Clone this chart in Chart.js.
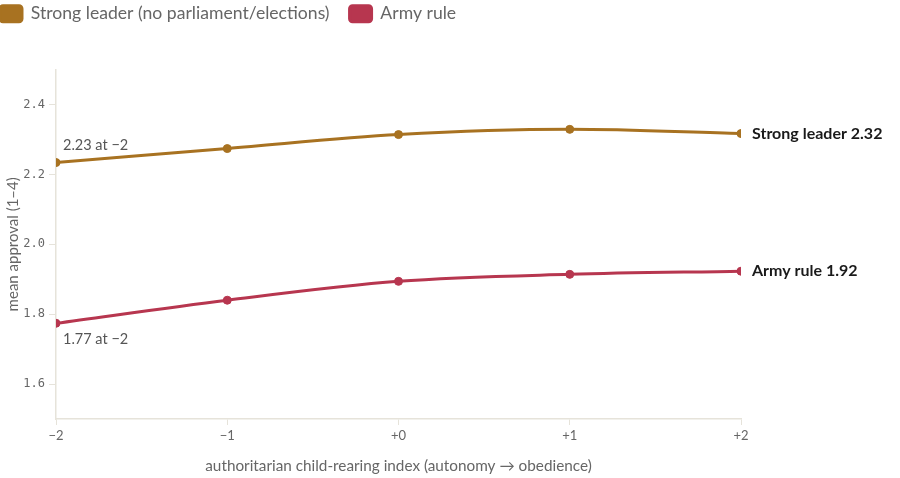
<!DOCTYPE html>
<html>
<head>
<meta charset="utf-8">
<script src="https://cdn.jsdelivr.net/npm/chart.js@4"></script>
<style>
  html, body { margin: 0; padding: 0; background: #fff; overflow: hidden; }
  /* legend in Chart.js starts one padding in, so pull the canvas up/left */
  #wrap { position: relative; width: 920px; height: 493px; margin-left: -20px; margin-top: -15px; }
</style>
</head>
<body>
<div id="wrap"><canvas id="approvalChart"></canvas></div>
<script>
// ---- data ----
const indexLabels = ['\u22122', '\u22121', '+0', '+1', '+2'];
const indexValues = [-2, -1, 0, 1, 2];
const strongLeader = [2.234, 2.274, 2.314, 2.329, 2.317];
const armyRule = [1.774, 1.840, 1.894, 1.914, 1.923];
const yTicks = [1.6, 1.8, 2.0, 2.2, 2.4];

const GOLD = '#a87221';
const RED = '#b7364f';
const AXIS = '#e6e3da';
const TEXT = '#666666';

// extra space between legend and plot
const legendGap = {
    id: 'legendGap',
    afterInit(chart) {
        const fit = chart.legend.fit;
        chart.legend.fit = function () {
            fit.bind(chart.legend)();
            this.height += 37;
        };
    }
};

// start / end labels on the lines
const lineLabels = {
    id: 'lineLabels',
    afterDatasetsDraw(chart) {
        const ctx = chart.ctx;
        const x = chart.scales.x, y = chart.scales.y;
        const last = indexValues.length - 1;
        ctx.save();
        ctx.textBaseline = 'middle';
        ctx.textAlign = 'left';

        // end labels
        ctx.fillStyle = '#1a1a1a';
        ctx.font = 'bold 16px Lato, "Open Sans", sans-serif';
        ctx.fillText('Strong leader ' + strongLeader[last].toFixed(2),
            x.getPixelForValue(indexValues[last]) + 11, y.getPixelForValue(strongLeader[last]));
        ctx.fillText('Army rule ' + armyRule[last].toFixed(2),
            x.getPixelForValue(indexValues[last]) + 11, y.getPixelForValue(armyRule[last]));

        // start labels
        ctx.fillStyle = '#555';
        ctx.font = '14.5px Lato, "Open Sans", sans-serif';
        ctx.fillText(strongLeader[0].toFixed(2) + ' at \u22122',
            x.getPixelForValue(indexValues[0]) + 7, y.getPixelForValue(strongLeader[0]) - 17);
        ctx.fillText(armyRule[0].toFixed(2) + ' at \u22122',
            x.getPixelForValue(indexValues[0]) + 7, y.getPixelForValue(armyRule[0]) + 16);
        ctx.restore();
    }
};

const lineStyle = (color) => ({
    borderColor: color,
    backgroundColor: color,
    borderWidth: 3,
    pointRadius: 4,
    pointBorderWidth: 1,
    pointHoverRadius: 4,
    cubicInterpolationMode: 'monotone'
});

new Chart(document.getElementById('approvalChart'), {
    type: 'line',
    data: {
        datasets: [
            Object.assign({ label: 'Strong leader (no parliament/elections)',
                data: indexValues.map((v, i) => ({ x: v, y: strongLeader[i] })) }, lineStyle(GOLD)),
            Object.assign({ label: 'Army rule',
                data: indexValues.map((v, i) => ({ x: v, y: armyRule[i] })) }, lineStyle(RED))
        ]
    },
    options: {
        responsive: true,
        maintainAspectRatio: false,
        animation: false,
        layout: { padding: { left: 0, right: 159, top: 0, bottom: 0 } },
        plugins: {
            tooltip: { enabled: false },
            legend: {
                position: 'top',
                align: 'start',
                labels: {
                    boxWidth: 22, boxHeight: 16, padding: 20,
                    useBorderRadius: true, borderRadius: 3,
                    color: TEXT,
                    font: { family: 'Lato, "Open Sans", sans-serif', size: 17.6 }
                }
            }
        },
        scales: {
            x: {
                type: 'linear',
                min: -2, max: 2,
                afterBuildTicks: (s) => { s.ticks = indexValues.map(v => ({ value: v })); },
                afterFit: (s) => { s.height = 59; },
                ticks: {
                    callback: (v) => indexLabels[indexValues.indexOf(v)],
                    color: TEXT, padding: 3,
                    font: { family: 'Lato, sans-serif', size: 13 }
                },
                grid: { drawOnChartArea: false, color: AXIS, tickLength: 6, tickColor: AXIS },
                border: { color: AXIS, width: 1.5 },
                title: {
                    display: true,
                    text: 'authoritarian child-rearing index (autonomy \u2192 obedience)',
                    color: TEXT,
                    padding: { top: 0, bottom: 3 },
                    font: { family: 'Lato, "Open Sans", sans-serif', size: 15.3 }
                }
            },
            y: {
                min: 1.5, max: 2.5,
                afterBuildTicks: (s) => { s.ticks = yTicks.map(v => ({ value: v })); },
                afterFit: (s) => { s.width = 76; },
                ticks: {
                    callback: (v) => v.toFixed(1),
                    color: TEXT, padding: 4,
                    font: { family: '"DejaVu Sans Mono", monospace', size: 12 }
                },
                grid: { drawOnChartArea: false, color: AXIS, tickLength: 7, tickColor: AXIS },
                border: { color: AXIS, width: 1.5 },
                title: {
                    display: true,
                    text: 'mean approval (1\u20134)',
                    color: TEXT,
                    padding: { top: 24, bottom: 0 },
                    font: { family: 'Lato, "Open Sans", sans-serif', size: 15 }
                }
            }
        }
    },
    plugins: [legendGap, lineLabels]
});
</script>
</body>
</html>
